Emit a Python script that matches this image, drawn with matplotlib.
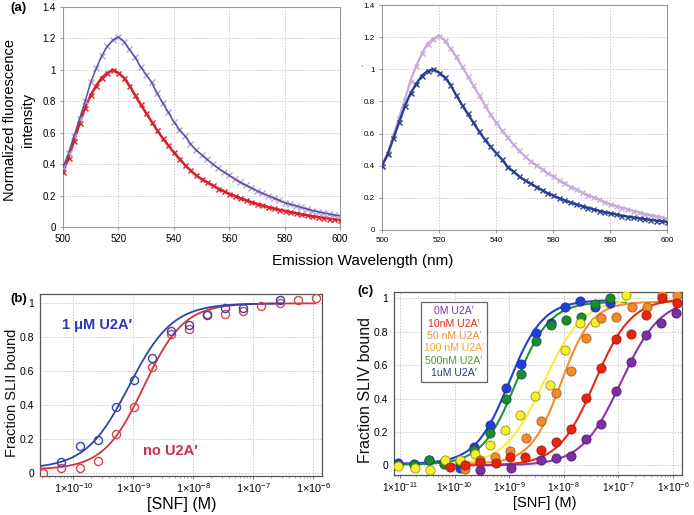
import numpy as np
import matplotlib
matplotlib.use("Agg")
import matplotlib.pyplot as plt
from matplotlib.ticker import FixedLocator, FixedFormatter, LogLocator, NullFormatter
from matplotlib.patches import Rectangle

plt.rcParams['font.family'] = ['Liberation Sans', 'DejaVu Sans']
plt.rcParams['mathtext.fontset'] = 'custom'
plt.rcParams['mathtext.rm'] = 'Liberation Sans'
plt.rcParams['mathtext.it'] = 'Liberation Sans:italic'
plt.rcParams['mathtext.bf'] = 'Liberation Sans:bold'

# ---------------- data: panel (a) spectra ----------------
wavelength = [500, 502, 504, 506, 508, 510, 512, 514, 516, 518, 520, 522, 524, 526, 528, 530,
              532, 534, 536, 538, 540, 542, 544, 546, 548, 550, 552, 554, 556, 558, 560, 562,
              564, 566, 568, 570, 572, 574, 576, 578, 580, 582, 584, 586, 588, 590, 592, 594,
              596, 598, 600]
left_no_u2a = [0.35, 0.44, 0.55, 0.66, 0.76, 0.84, 0.90, 0.95, 0.98, 1.00, 0.98, 0.95, 0.90,
               0.84, 0.78, 0.725, 0.67, 0.615, 0.565, 0.52, 0.475, 0.435, 0.395, 0.36, 0.33,
               0.305, 0.285, 0.265, 0.245, 0.228, 0.212, 0.197, 0.183, 0.17, 0.158, 0.147,
               0.137, 0.127, 0.118, 0.11, 0.102, 0.095, 0.088, 0.081, 0.075, 0.069, 0.064,
               0.059, 0.054, 0.049, 0.045]
left_u2a = [0.38, 0.47, 0.58, 0.69, 0.80, 0.92, 1.01, 1.09, 1.15, 1.19, 1.21, 1.18, 1.13, 1.08,
            1.02, 0.97, 0.92, 0.85, 0.79, 0.73, 0.67, 0.62, 0.58, 0.53, 0.49, 0.46, 0.43, 0.40,
            0.375, 0.35, 0.33, 0.305, 0.285, 0.265, 0.25, 0.23, 0.215, 0.20, 0.185, 0.17,
            0.155, 0.145, 0.135, 0.125, 0.115, 0.105, 0.097, 0.09, 0.083, 0.076, 0.07]
right_no_u2a = [0.40, 0.47, 0.57, 0.67, 0.77, 0.85, 0.91, 0.96, 0.99, 1.00, 0.98, 0.95, 0.905,
                0.84, 0.78, 0.725, 0.67, 0.615, 0.565, 0.52, 0.48, 0.44, 0.395, 0.365, 0.335,
                0.31, 0.29, 0.27, 0.25, 0.23, 0.215, 0.198, 0.185, 0.172, 0.16, 0.15, 0.14,
                0.13, 0.12, 0.112, 0.104, 0.097, 0.09, 0.084, 0.078, 0.073, 0.068, 0.063,
                0.059, 0.055, 0.05]
right_u2a = [0.40, 0.48, 0.59, 0.70, 0.81, 0.93, 1.02, 1.10, 1.16, 1.19, 1.21, 1.18, 1.13,
             1.08, 1.02, 0.96, 0.90, 0.84, 0.78, 0.72, 0.67, 0.62, 0.58, 0.535, 0.495, 0.46,
             0.43, 0.405, 0.38, 0.355, 0.335, 0.31, 0.29, 0.27, 0.255, 0.235, 0.22, 0.205,
             0.19, 0.175, 0.16, 0.15, 0.14, 0.13, 0.12, 0.11, 0.10, 0.092, 0.085, 0.078, 0.07]
a_yticks = [0, 0.2, 0.4, 0.6, 0.8, 1.0, 1.2, 1.4]
a_yticklabels = ["0", "0.2", "0.4", "0.6", "0.8", "1", "1.2", "1.4"]
a_xticks = [500, 520, 540, 560, 580, 600]
a_left_xticklabels = ["500", "520", "540", "560", "580", "600"]
a_right_xticklabels = ["500", "520", "540", "580", "580", "600"]

# ---------------- data: panel (b) ----------------
b_no_x = [3.16e-11, 6.35e-11, 1.28e-10, 2.57e-10, 5.16e-10, 1.04e-9, 2.09e-9, 4.2e-9, 8.4e-9,
          1.69e-8, 3.4e-8, 6.8e-8, 1.37e-7, 2.76e-7, 5.5e-7, 1.12e-6]
b_no_y = [0.0, 0.03, 0.03, 0.07, 0.23, 0.39, 0.625, 0.82, 0.85, 0.935, 0.935, 0.955, 0.985,
          1.0, 1.02, 1.03]
b_u2a_x = [6.35e-11, 1.28e-10, 2.57e-10, 5.16e-10, 1.04e-9, 2.09e-9, 4.2e-9, 8.4e-9, 1.69e-8,
           3.4e-8, 6.8e-8, 2.76e-7]
b_u2a_y = [0.065, 0.16, 0.195, 0.39, 0.55, 0.68, 0.835, 0.875, 0.93, 0.975, 0.97, 1.02]
# Hill fit parameters: K, n, bottom, top, curve start, curve end
b_no_fit = [1.5e-9, 1.3, 0.02, 1.0, 2.8e-11, 1.1e-6]
b_u2a_fit = [8.5e-10, 1.2, 0.025, 1.0, 2.8e-11, 3e-7]
b_xticks = [1e-10, 1e-9, 1e-8, 1e-7, 1e-6]
b_xticklabels = ["1×10$^{-10}$", "1×10$^{-9}$", "1×10$^{-8}$", "1×10$^{-7}$", "1×10$^{-6}$"]
frac_yticks = [0, 0.2, 0.4, 0.6, 0.8, 1.0]
frac_yticklabels = ["0", "0.2", "0.4", "0.6", "0.8", "1"]

# ---------------- data: panel (c) ----------------
c_labels = ["0M U2A′", "10nM U2A′", "50 nM U2A′", "100 nM U2A′", "500nM U2A′", "1uM U2A′"]
c0_x = [2.92e-10, 1.08e-9, 3.82e-9, 7.19e-9, 1.355e-8, 2.55e-8, 4.8e-8, 9.04e-8, 1.7e-7,
        3.2e-7, 6.03e-7, 1.135e-6]
c0_y = [-0.03, -0.015, 0.03, 0.045, 0.055, 0.16, 0.25, 0.445, 0.62, 0.78, 0.85, 0.91]
c10_x = [8.24e-11, 1.55e-10, 2.92e-10, 5.66e-10, 1.035e-9, 1.95e-9, 3.82e-9, 7.19e-9,
         1.355e-8, 2.52e-8, 4.74e-8, 9.04e-8, 1.68e-7, 3.16e-7, 6.21e-7, 1.17e-6]
c10_y = [-0.01, 0.005, 0.02, 0.015, 0.05, 0.05, 0.095, 0.14, 0.22, 0.405, 0.585, 0.755,
         0.785, 0.90, 1.005, 0.97]
c50_x = [1.55e-10, 2.92e-10, 5.5e-10, 1.035e-9, 2.0e-9, 3.82e-9, 7.19e-9, 1.355e-8, 2.52e-8,
         4.74e-8, 9.04e-8, 1.75e-7, 3.3e-7, 6.21e-7, 1.17e-6]
c50_y = [-0.02, 0.03, 0.05, 0.085, 0.165, 0.265, 0.435, 0.565, 0.765, 0.88, 0.89, 0.95, 0.95,
         1.02, 1.02]
c100_x = [9.08e-12, 1.88e-11, 3.54e-11, 6.67e-11, 1.256e-10, 2.37e-10, 4.45e-10, 8.38e-10,
          1.58e-9, 2.97e-9, 5.58e-9, 1.05e-8, 1.98e-8, 3.72e-8, 1.36e-7]
c100_y = [-0.005, -0.015, -0.025, 0.035, 0.03, 0.07, 0.12, 0.21, 0.305, 0.415, 0.48, 0.69,
          0.85, 0.86, 1.02]
c500_x = [9.08e-12, 1.83e-11, 3.4e-11, 6.47e-11, 1.23e-10, 2.3e-10, 4.45e-10, 8.63e-10,
          1.625e-9, 3.05e-9, 5.75e-9, 1.08e-8, 2.04e-8, 3.72e-8, 7.0e-8]
c500_y = [0.0, 0.0, 0.035, 0.01, 0.02, 0.09, 0.195, 0.395, 0.545, 0.745, 0.84, 0.87, 0.89,
          0.965, 1.0]
c1u_x = [9.08e-12, 1.83e-11, 3.4e-11, 6.47e-11, 1.26e-10, 2.3e-10, 4.45e-10, 8.63e-10,
         1.625e-9, 3.05e-9, 5.75e-9, 1.05e-8, 1.98e-8, 3.72e-8, 7.0e-8]
c1u_y = [0.015, 0.01, 0.03, 0.02, -0.015, 0.11, 0.24, 0.465, 0.605, 0.79, 0.85, 0.95, 0.985,
         0.95, 0.97]
# Hill fit parameters: K, n, bottom, top, curve start, curve end
c0_fit = [1.12e-7, 1.2, 0.0, 1.0, 2.9e-10, 1.17e-6]
c10_fit = [3.7e-8, 1.3, 0.0, 1.0, 8.2e-11, 1.17e-6]
c50_fit = [8.9e-9, 1.55, 0.01, 0.98, 1.55e-10, 1.17e-6]
c100_fit = [4.3e-9, 1.2, 0.0, 1.0, 6.6e-11, 1.36e-7]
c500_fit = [1.32e-9, 1.4, 0.005, 0.98, 7.8e-12, 1.36e-7]
c1u_fit = [1.0e-9, 1.4, 0.01, 0.99, 7.8e-12, 6.3e-8]
c_xticks = [1e-11, 1e-10, 1e-9, 1e-8, 1e-7, 1e-6]
c_xticklabels = ["1×10$^{-11}$", "1×10$^{-10}$", "1×10$^{-9}$", "1×10$^{-8}$", "1×10$^{-7}$",
                 "1×10$^{-6}$"]

# ---------------- helpers ----------------
W, H = 694, 515
fig = plt.figure(figsize=(W / 100, H / 100), dpi=100)


def ax_at(l, t, r, b):
    return fig.add_axes([l / W, 1 - b / H, (r - l) / W, (b - t) / H])


def hill(x, p):
    K, n, lo, hi = p[0], p[1], p[2], p[3]
    return lo + (hi - lo) * x ** n / (K ** n + x ** n)


def fit_curve(ax, p, color, lw):
    xs = np.logspace(np.log10(p[4]), np.log10(p[5]), 200)
    ax.plot(xs, hill(xs, p), color=color, lw=lw, zorder=3)


GRID = dict(color='#c8c8c8', linestyle=(0, (1.5, 1.5)), linewidth=0.7)


def style_spectrum_ax(ax, xlabels, fs):
    ax.set_xlim(500, 600)
    ax.set_ylim(0, 1.4)
    ax.set_xticks(a_xticks)
    ax.set_xticklabels(xlabels)
    ax.set_yticks(a_yticks)
    ax.set_yticklabels(a_yticklabels)
    ax.tick_params(labelsize=fs, length=2, width=0.6, color='#888888', pad=3)
    for s in ax.spines.values():
        s.set_color('#999999')
        s.set_linewidth(0.8)
    ax.grid(True, **GRID)
    ax.set_axisbelow(True)


# ---------------- panel (a) left ----------------
axl = ax_at(63, 7, 340, 227)
axl.plot(wavelength, left_no_u2a, color='#d81f2a', lw=1.8, zorder=3)
axl.plot(wavelength, left_no_u2a, ls='none', marker='x', ms=3.6, mew=1.0, color='#d81f2a', zorder=3)
axl.plot(wavelength, left_u2a, ls='none', marker='x', ms=3.8, mew=1.0, color='#b9a3dc', zorder=3)
axl.plot(wavelength, left_u2a, color='#5a4d9e', lw=1.1, zorder=4)
style_spectrum_ax(axl, a_left_xticklabels, 7)

# ---------------- panel (a) right ----------------
axr = ax_at(382, 5, 667, 230)
axr.plot(wavelength, right_u2a, color='#c6aad9', lw=1.6, zorder=3)
axr.plot(wavelength, right_u2a, ls='none', marker='x', ms=3.6, mew=1.0, color='#c6aad9', zorder=3)
axr.plot(wavelength, right_no_u2a, color='#2b3d8e', lw=1.7, zorder=4)
axr.plot(wavelength, right_no_u2a, ls='none', marker='x', ms=3.6, mew=1.0, color='#2b3d8e', zorder=4)
style_spectrum_ax(axr, a_right_xticklabels, 5.8)
fig.text(362 / W, 1 - 68 / H, "'", fontsize=6, ha='center', va='center', color='#444444')

fig.text(10 / W, 1 - 8 / H, "(a)", fontsize=9.5, fontweight='bold', ha='left', va='center')
fig.text(363 / W, 1 - 261 / H, "Emission Wavelength (nm)", fontsize=11, ha='center', va='center')
fig.text(19 / W, 1 - 120 / H, "Normalized fluorescence\nintensity", fontsize=10.5, rotation=90,
         ha='center', va='center', linespacing=1.45, multialignment='center')


def style_binding_ax(ax, xticks, xlabels, fs_x):
    ax.set_xscale('log')
    ax.xaxis.set_major_locator(FixedLocator(xticks))
    ax.xaxis.set_major_formatter(FixedFormatter(xlabels))
    ax.xaxis.set_minor_locator(LogLocator(base=10, subs=np.arange(2, 10), numticks=20))
    ax.xaxis.set_minor_formatter(NullFormatter())
    ax.set_yticks(frac_yticks)
    ax.set_yticklabels(frac_yticklabels)
    ax.tick_params(axis='x', which='major', labelsize=fs_x, length=2.5, width=0.6, pad=1,
                   color='#666666')
    ax.tick_params(axis='x', which='minor', length=1.5, width=0.5, color='#888888')
    ax.tick_params(axis='y', labelsize=7.5, length=0, pad=4)
    for s in ax.spines.values():
        s.set_color('#555555')
        s.set_linewidth(0.9)
    ax.grid(True, which='major', **GRID)
    ax.set_axisbelow(True)


# ---------------- panel (b) ----------------
axb = ax_at(40, 294, 322, 476)
fit_curve(axb, b_no_fit, '#d0343e', 1.3)
fit_curve(axb, b_u2a_fit, '#2f45a8', 1.3)
axb.plot(b_no_x, b_no_y, ls='none', marker='o', ms=5.8, mfc='none', mec='#d8464a', mew=1.0, zorder=4)
axb.plot(b_u2a_x, b_u2a_y, ls='none', marker='o', ms=5.8, mfc='none', mec='#3346b3', mew=1.0, zorder=4)
axb.set_xlim(2.79e-11, 1.4e-6)
axb.set_ylim(-0.018, 1.055)
style_binding_ax(axb, b_xticks, b_xticklabels, 7.8)
axb.text(62 / W, 1 - 325 / H, "1 μM U2A′", transform=fig.transFigure, fontsize=10.5,
         fontweight='bold', color='#2a36b5', ha='left', va='center')
axb.text(143 / W, 1 - 451 / H, "no U2A′", transform=fig.transFigure, fontsize=10.5,
         fontweight='bold', color='#d42a50', ha='left', va='center')
fig.text(12 / W, 1 - 393 / H, "Fraction SLII bound", fontsize=10.5, rotation=90,
         ha='center', va='center', color='#111111')
fig.text(182 / W, 1 - 505 / H, "[SNF] (M)", fontsize=11.5, ha='center', va='center')
fig.text(10 / W, 1 - 299 / H, "(b)", fontsize=9.5, fontweight='bold', ha='left', va='center')

# ---------------- panel (c) ----------------
axc = ax_at(394, 292, 682, 475)
series_c = [
    (c1u_x, c1u_y, c1u_fit, '#1f3fdc', '#1f3fdc', '#23309a'),
    (c500_x, c500_y, c500_fit, '#1f9435', '#1e8a32', '#135c20'),
    (c100_x, c100_y, c100_fit, '#f5ef3a', '#f7ee2c', '#9a8f20'),
    (c50_x, c50_y, c50_fit, '#f28c2c', '#f38b2b', '#a85a15'),
    (c10_x, c10_y, c10_fit, '#e52a1a', '#e8240f', '#9a1a10'),
    (c0_x, c0_y, c0_fit, '#8a35b0', '#7e2ea3', '#4e1a68'),
]
for xs, ys, p, lc, fc, ec in series_c:
    fit_curve(axc, p, lc, 1.5)
for xs, ys, p, lc, fc, ec in series_c:
    axc.plot(xs, ys, ls='none', marker='o', ms=6.6, mfc=fc, mec=ec, mew=0.6, zorder=5)
axc.set_xlim(10 ** -11.11, 10 ** -5.835)
axc.set_ylim(-0.057, 1.038)
style_binding_ax(axc, c_xticks, c_xticklabels, 7.3)
fig.text(365 / W, 1 - 390 / H, "Fraction SLIV bound", fontsize=11.5, rotation=90,
         ha='center', va='center', color='#111111')
fig.text(545 / W, 1 - 503 / H, "[SNF] (M)", fontsize=10.5, ha='center', va='center')
fig.text(357 / W, 1 - 291 / H, "(c)", fontsize=9.5, fontweight='bold', ha='left', va='center')

# legend box for (c)
box = Rectangle((421 / W, 1 - 382 / H), 66 / W, 80 / H, transform=fig.transFigure,
                facecolor='white', edgecolor='#666666', linewidth=0.9, zorder=10)
fig.patches.append(box)
leg_colors = ['#7a3aa0', '#e02a1a', '#f08a3a', '#f5a623', '#4a9a30', '#233a8c']
for i, (lab, col) in enumerate(zip(c_labels, leg_colors)):
    fig.text(454 / W, 1 - (311.5 + 12.3 * i) / H, lab, fontsize=7.6, color=col,
             ha='center', va='center', zorder=11)

fig.savefig("out.png", dpi=100)
